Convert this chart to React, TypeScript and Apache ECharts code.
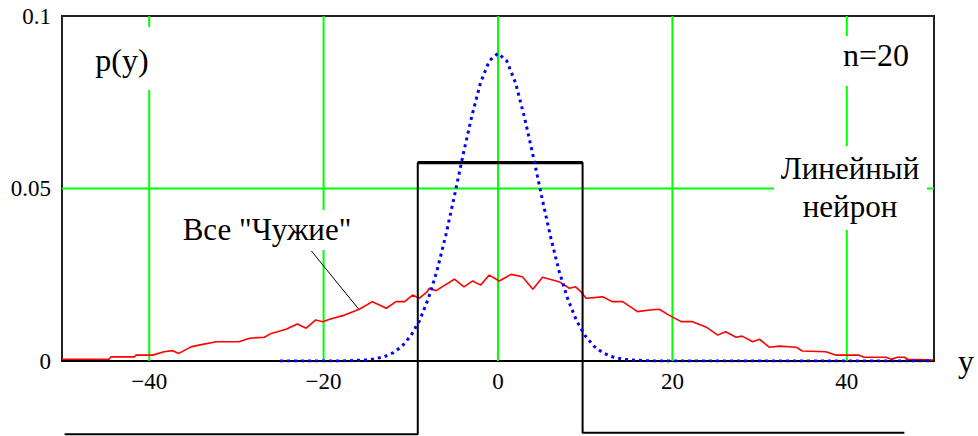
import React, { useEffect, useRef } from "react";
import * as echarts from "echarts";

// Axis ranges and tick settings
const xRange = [-50, 50];
const yRange = [0, 0.1];
const gridX = [-40, -20, 0, 20, 40];
const gridY = [0.05];

// Red curve: all "foreign" inputs (x, p)
const redX = [-50, -44.6, -44.4, -41.7, -41.5, -39.6, -38.3, -37.3, -36.6, -35.2, -34.3, -32.3, -29.7, -28.5, -26.8, -26.0, -24.3, -23.0, -22.0, -20.9, -20.1, -19.3, -17.6, -15.9, -14.4, -12.8, -11.7, -10.7, -9.8, -9.0, -8.1, -7.9, -7.1, -5.0, -3.9, -2.9, -2.0, -1.0, 0.15, 1.5, 2.8, 4.0, 5.1, 7.0, 8.2, 8.9, 9.5, 10.1, 12.0, 13.1, 14.3, 16.0, 17.4, 18.5, 19.6, 21.0, 22.3, 23.9, 25.2, 26.1, 27.3, 28.0, 29.2, 30.0, 31.1, 32.3, 34.2, 34.9, 37.6, 38.8, 41.4, 42.0, 44.5, 45.1, 45.8, 46.6, 47.0, 50];
const redY = [0.0005, 0.0005, 0.0012, 0.0012, 0.0017, 0.0017, 0.0027, 0.003, 0.0022, 0.0041, 0.0046, 0.0056, 0.0056, 0.0066, 0.0069, 0.008, 0.0092, 0.0107, 0.0095, 0.0119, 0.0114, 0.0121, 0.0133, 0.015, 0.0172, 0.0153, 0.0172, 0.0172, 0.0191, 0.0182, 0.0201, 0.0211, 0.0204, 0.0237, 0.0215, 0.0232, 0.022, 0.0249, 0.0232, 0.0251, 0.0244, 0.0208, 0.0243, 0.023, 0.0211, 0.0215, 0.0201, 0.0182, 0.0186, 0.0172, 0.0172, 0.0143, 0.0148, 0.015, 0.0133, 0.0114, 0.0114, 0.0098, 0.0075, 0.0085, 0.0069, 0.0072, 0.0056, 0.0063, 0.004, 0.0043, 0.004, 0.0029, 0.0027, 0.0017, 0.0017, 0.0011, 0.0011, 0.0005, 0.0011, 0.0011, 0.0005, 0.0003];

// Blue dotted curve (n = 20)
const blueX = [-25, -20, -18, -17, -16, -15, -14, -13, -12, -11, -10, -9, -8, -7, -6, -5, -4, -3, -2, -1, 0, 1, 2, 3, 4, 5, 6, 7, 8, 9, 10, 11, 12, 13, 14, 15, 16, 17, 18, 20, 30, 40, 50];
const blueY = [0, 0, 0, 0.0001, 0.0002, 0.0003, 0.0007, 0.0013, 0.0024, 0.0043, 0.0073, 0.0117, 0.018, 0.0261, 0.0363, 0.0478, 0.0598, 0.071, 0.0807, 0.087, 0.0892, 0.087, 0.0807, 0.071, 0.0598, 0.0478, 0.0363, 0.0261, 0.018, 0.0117, 0.0073, 0.0043, 0.0024, 0.0013, 0.0007, 0.0003, 0.0002, 0.0001, 0, 0, 0, 0, 0];

// Black step: linear neuron (drawn beyond the axis)
const stepX = [-49.7, -9.2, -9.2, 9.7, 9.7, 46.6];
const stepY = [-0.0212, -0.0212, 0.0575, 0.0575, -0.0208, -0.0208];
const stepTopX = [-9.2, 9.7];
const stepTopY = [0.0575, 0.0575];

// Leader line from label to red curve
const leaderX = [-21.4, -16.0];
const leaderY = [0.0319, 0.0151];

const SERIF = "Liberation Serif";

function zip(xs: number[], ys: number[]) {
  return xs.map((x, i) => [x, ys[i]]);
}

export default function App() {
  const ref = useRef<HTMLDivElement>(null);
  useEffect(() => {
    if (!ref.current) return;
    const chart = echarts.init(ref.current, undefined, { renderer: "svg" });
    const gridSeries: any[] = [
      ...gridX.map((gx) => ({
        type: "line",
        data: [[gx, yRange[0]], [gx, yRange[1]]],
        symbol: "none",
        silent: true,
        z: 1,
        lineStyle: { color: "#00ff00", width: 2 },
      })),
      ...gridY.map((gy) => ({
        type: "line",
        data: [[xRange[0], gy], [xRange[1], gy]],
        symbol: "none",
        silent: true,
        z: 1,
        lineStyle: { color: "#00ff00", width: 2 },
      })),
    ];
    const white = (x: number, y: number, w: number, h: number) => ({
      type: "rect",
      z: 2,
      silent: true,
      shape: { x, y, width: w, height: h },
      style: { fill: "#ffffff" },
    });
    const txt = (text: string, x: number, y: number, size: number) => ({
      type: "text",
      z: 6,
      x,
      y,
      style: {
        text,
        fill: "#000",
        fontFamily: SERIF,
        fontSize: size,
        align: "center",
        verticalAlign: "middle",
      },
    });
    chart.setOption({
      animation: false,
      textStyle: { fontFamily: SERIF },
      grid: {
        left: 62,
        right: 44,
        top: 16,
        bottom: 75,
        show: true,
        borderColor: "#222",
        borderWidth: 2,
        backgroundColor: "transparent",
      },
      xAxis: {
        type: "value",
        min: xRange[0],
        max: xRange[1],
        interval: 10,
        name: "y",
        nameLocation: "end",
        nameGap: 24,
        nameTextStyle: { fontFamily: SERIF, fontSize: 32, color: "#000", verticalAlign: "middle" },
        axisLine: { show: true, onZero: false, lineStyle: { color: "#000", width: 2 } },
        axisTick: { show: false },
        splitLine: { show: false },
        axisLabel: {
          margin: 9,
          fontFamily: SERIF,
          fontSize: 23,
          color: "#000",
          formatter: (v: number) => {
            if (Math.round(v) % 20 !== 0 || Math.abs(v) === 50) return "";
            return v < 0 ? "\u2212" + Math.abs(v) : String(v);
          },
        },
      },
      yAxis: {
        type: "value",
        min: yRange[0],
        max: yRange[1],
        interval: 0.05,
        axisLine: { show: false },
        axisTick: { show: false },
        splitLine: { show: false },
        axisLabel: {
          margin: 11,
          fontFamily: SERIF,
          fontSize: 23,
          color: "#000",
          formatter: (v: number) => (v === 0 ? "0" : String(+v.toFixed(2))),
        },
      },
      series: [
        ...gridSeries,
        {
          type: "line",
          data: zip(redX, redY),
          symbol: "none",
          z: 3,
          lineStyle: { color: "#ff0000", width: 1.6 },
        },
        {
          type: "line",
          data: zip(stepX, stepY),
          symbol: "none",
          clip: false,
          z: 3,
          lineStyle: { color: "#000", width: 2 },
        },
        {
          type: "line",
          data: zip(stepTopX, stepTopY),
          symbol: "none",
          z: 3,
          lineStyle: { color: "#000", width: 3.2 },
        },
        {
          type: "line",
          data: zip(blueX, blueY),
          symbol: "none",
          z: 4,
          lineStyle: { color: "#0000ff", width: 3, type: [3, 4] },
        },
        {
          type: "line",
          data: zip(leaderX, leaderY),
          symbol: "none",
          z: 5,
          lineStyle: { color: "#000", width: 1 },
        },
      ],
      graphic: [
        white(88, 27, 64, 63),
        white(820, 36, 100, 50),
        white(774, 146, 153, 84),
        white(175, 210, 185, 40),
        txt("p(y)", 122, 60, 32),
        txt("n=20", 876, 55, 32),
        txt("Линейный", 850, 168, 31),
        txt("нейрон", 850, 206, 31),
        txt("Все \"Чужие\"", 267, 229, 31),
      ],
    });
    return () => chart.dispose();
  }, []);
  return (
    <div
      ref={ref}
      style={{ position: "fixed", left: 0, top: 0, width: 978, height: 436, background: "#fff" }}
    />
  );
}
